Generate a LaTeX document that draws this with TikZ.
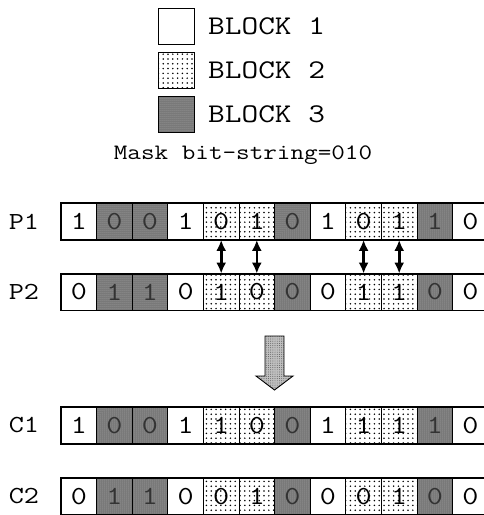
\documentclass[tikz,border=0pt]{standalone}
\usepackage{fontspec}
\setmonofont[FakeStretch=1.2]{Latin Modern Mono}
\usetikzlibrary{patterns.meta,arrows.meta}

\tikzset{
  cell/.style={draw, line width=0.8pt, minimum width=35.6pt, minimum height=36pt,
    inner sep=0pt, font=\fontsize{26}{26}\ttfamily},
  blk1/.style={cell, fill=white},
  blk2/.style={cell, preaction={fill=white},
    pattern={Dots[distance=4.8pt,radius=0.85pt]}, pattern color=black},
  blk3/.style={cell, preaction={fill=black!55},
    pattern={Dots[distance=2pt,radius=0.5pt]}, pattern color=white!75!black, text=black!80},
  legbox/.style={minimum size=36pt},
  legtext/.style={anchor=west, inner sep=0pt, font=\fontsize{27}{27}\ttfamily},
  rowlab/.style={inner sep=0pt, font=\fontsize{24.5}{24.5}\ttfamily},
  swap/.style={line width=2.6pt, {Latex[length=11pt,width=10pt]}-{Latex[length=11pt,width=10pt]}},
  bigarrow/.style={draw, line width=0.9pt, preaction={fill=black!25},
    pattern={Dots[distance=2.2pt,radius=0.45pt]}, pattern color=black!70},
}

\begin{document}
\begin{tikzpicture}[x=1pt,y=-1pt]
\useasboundingbox (0,0) rectangle (484,515);

% legend
\foreach \k/\yy in {1/26,2/70,3/114}{
  \node[blk\k, legbox] (leg\k) at (176,\yy) {};
  \node[legtext] (legtxt\k) at (208,\yy) {BLOCK \k};
}
\node[inner sep=0pt, font=\fontsize{22}{22}\ttfamily] (mask) at (243,155) {Mask bit-string=010};

% bit strings
\foreach \r/\yy/\bits in {
    P1/221.5/{1,0,0,1,0,1,0,1,0,1,1,0},
    P2/292/{0,1,1,0,1,0,0,0,1,1,0,0},
    C1/425.5/{1,0,0,1,1,0,0,1,1,1,1,0},
    C2/496.5/{0,1,1,0,0,1,0,0,0,1,0,0}}{
  \node[rowlab] (\r-lab) at (24,\yy) {\r};
  \foreach \b [count=\i] in \bits {
    \pgfmathtruncatemacro\k{{1,3,3,1,2,2,3,1,2,2,3,1}[\i-1]}
    \node[blk\k] (\r-\i) at ({61+35.6*(\i-0.5)},\yy) {\b};
  }
  \draw[line width=1.5pt] (\r-1.north west) rectangle (\r-12.south east);
}

% swapped positions
\foreach \i in {5,6,9,10}
  \draw[swap] (P1-\i.south) -- (P2-\i.north);

% crossover arrow
\path[bigarrow] (265,336) -- (284,336) -- (284,376) -- (293,376) -- (274.5,390)
  -- (256,376) -- (265,376) -- cycle;
\end{tikzpicture}
\end{document}
